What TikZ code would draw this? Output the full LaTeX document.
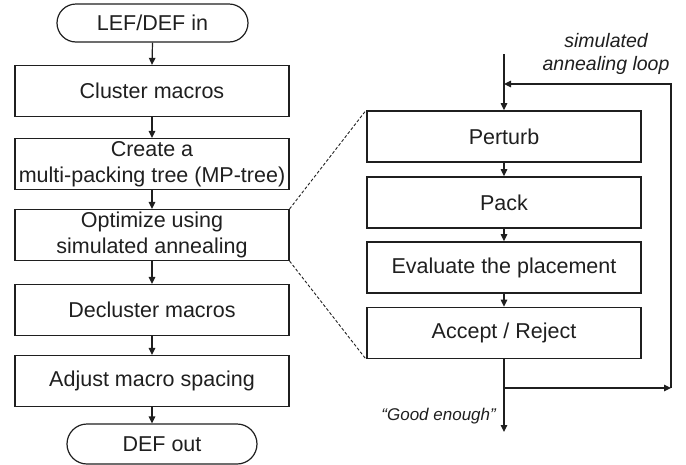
\documentclass[tikz,border=0pt]{standalone}
\usepackage{fontspec}
\setmainfont{Liberation Sans}
\usetikzlibrary{arrows.meta,shapes.misc}
\definecolor{ink}{rgb}{0.12,0.12,0.12}
\begin{document}
\begin{tikzpicture}[x=1pt,y=-1pt,
 every node/.style={text=ink},
 box/.style={draw=ink,line width=1.2pt,rectangle,minimum width=274pt,minimum height=51pt,inner sep=0pt,align=center,font=\fontsize{21.5}{26}\selectfont},
 rbox/.style={box,line width=1.7pt},
 term/.style={draw=ink,line width=1.2pt,rounded rectangle,minimum width=191pt,minimum height=38pt,inner sep=0pt,font=\fontsize{21.5}{26}\selectfont},
 flow/.style={draw=ink,line width=1.2pt,-{Triangle[length=7pt,width=6.5pt]}},
 zoomline/.style={draw=ink,line width=0.9pt,dash pattern=on 3pt off 2pt},
 lbl/.style={font=\fontsize{19.5}{23}\selectfont\itshape,align=center,inner sep=0pt}]
\useasboundingbox (0,0) rectangle (686,464);
% left column
\node[term] (in) at (152.5,23) {LEF/DEF in};
\node[box] (cl) at (152,91) {Cluster macros};
\node[box] (cr) at (152,164) {Create a\\multi-packing tree (MP-tree)};
\node[box] (op) at (152,235) {Optimize using\\simulated annealing};
\node[box] (de) at (152,310) {Decluster macros};
\node[box] (ad) at (152,381) {Adjust macro spacing};
\node[term,minimum width=190pt,minimum height=40pt] (out) at (162,444) {DEF out};
\draw[flow] (in.south) -- (cl.north);
\draw[flow] (cl) -- (cr);
\draw[flow] (cr) -- (op);
\draw[flow] (op) -- (de);
\draw[flow] (de) -- (ad);
\draw[flow] (ad.south) -- (ad.south |- out.north);
% right column
\node[rbox] (pe) at (504,136.5) {Perturb};
\node[rbox] (pa) at (504,202.5) {Pack};
\node[rbox] (ev) at (504,267.5) {Evaluate the placement};
\node[rbox] (ac) at (504,333) {Accept / Reject};
\coordinate (top) at (504,54);
\coordinate (j2) at (504,84);
\coordinate (r2) at (671,84);
\coordinate (j1) at (504,388);
\coordinate (r1) at (671,388);
\coordinate (end) at (504,432);
\draw[flow] (top) -- (pe.north);
\draw[flow] (r1) -- (r2) -- (j2);
\draw[flow] (pe) -- (pa);
\draw[flow] (pa) -- (ev);
\draw[flow] (ev) -- (ac);
\draw[flow] (ac.south) -- (end);
\draw[flow] (j1) -- (r1);
% labels
\node[lbl] (sal) at (606,53.5) {simulated\\annealing loop};
\node[lbl,font=\fontsize{17}{20}\selectfont\itshape,anchor=east] (ge) at (496,416) {“Good enough”};
% zoom lines
\draw[zoomline] (op.north east) -- (pe.north west);
\draw[zoomline] (op.south east) -- (ac.south west);
\end{tikzpicture}
\end{document}
